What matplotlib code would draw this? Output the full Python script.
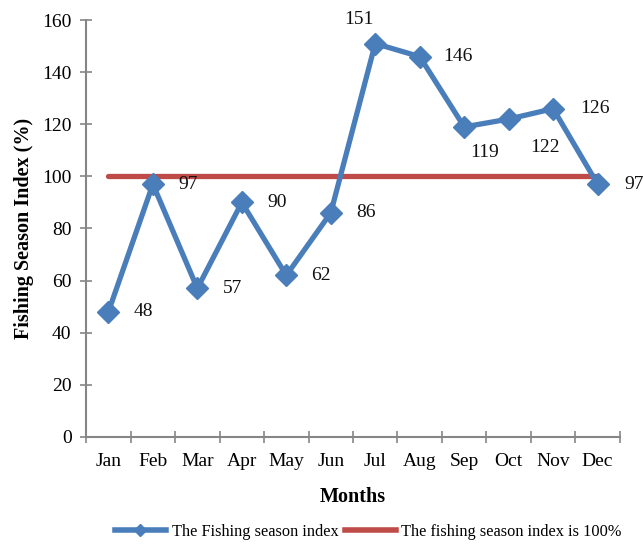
import matplotlib.pyplot as plt
from matplotlib.lines import Line2D

months = ["Jan", "Feb", "Mar", "Apr", "May", "Jun", "Jul", "Aug", "Sep", "Oct", "Nov", "Dec"]
index_values = [48, 97, 57, 90, 62, 86, 151, 146, 119, 122, 126, 97]
label_texts = ["48", "97", "57", "90", "62", "86", "151", "146", "119", "122", "126", "97"]
baseline = [100] * 12

# label offsets in pixels (dx, dy)
label_offsets = [(35, 0), (35, 0), (35, 0), (35, 0), (35, 0), (35, 0),
                 (-16, 24), (38, 0), (20, -26), (36, -28), (42, 0), (37, 0)]

plt.rcParams['font.family'] = ['Liberation Serif', 'DejaVu Serif']

blue = "#4A7EBB"
red = "#BE4B48"
grey = "#868686"

fig = plt.figure(figsize=(6.43, 5.44), dpi=100)
ax = fig.add_axes([0.134, 0.197, 0.830, 0.766])

x = list(range(len(months)))
ax.plot(x, baseline, color=red, lw=3.8, solid_capstyle='round', zorder=2)
ax.plot(x, index_values, color=blue, lw=3.8, marker='D', markersize=11,
        markerfacecolor=blue, markeredgecolor=blue, zorder=3)

for xi, v, t, (dx, dy) in zip(x, index_values, label_texts, label_offsets):
    ax.annotate(t, (xi, v), xytext=(dx, dy), textcoords='offset pixels',
                ha='center', va='center', fontsize=14, color='#111111')

ax.set_xlim(-0.5, 11.5)
ax.set_ylim(0, 160)
ax.set_yticks(range(0, 161, 20))
ax.set_xticks([i - 0.5 for i in range(13)])
ax.set_xticklabels([])
ax.set_xticks(x, minor=True)
ax.set_xticklabels(months, minor=True)
ax.tick_params(axis='x', which='minor', length=0, pad=12, labelsize=14)
ax.tick_params(axis='x', which='major', direction='inout', length=9, color=grey, width=1.2)
ax.tick_params(axis='y', direction='inout', length=9, color=grey, width=1.2, labelsize=14, pad=6)

for side in ['top', 'right']:
    ax.spines[side].set_visible(False)
for side in ['left', 'bottom']:
    ax.spines[side].set_color(grey)
    ax.spines[side].set_linewidth(1.5)

ax.set_ylabel("Fishing Season Index (%)", fontsize=14.5, fontweight='bold', labelpad=6)
ax.set_xlabel("Months", fontsize=14.5, fontweight='bold', labelpad=12)

handles = [
    Line2D([], [], color=blue, lw=4, marker='D', markersize=6),
    Line2D([], [], color=red, lw=4),
]
fig.legend(handles, ["The Fishing season index", "The fishing season index is 100%"],
           loc='center', bbox_to_anchor=(0.573, 0.022), ncol=2, frameon=False,
           fontsize=11.8, handlelength=3.1, columnspacing=0.4, handletextpad=0.35)

fig.savefig("out.png", dpi=100)
